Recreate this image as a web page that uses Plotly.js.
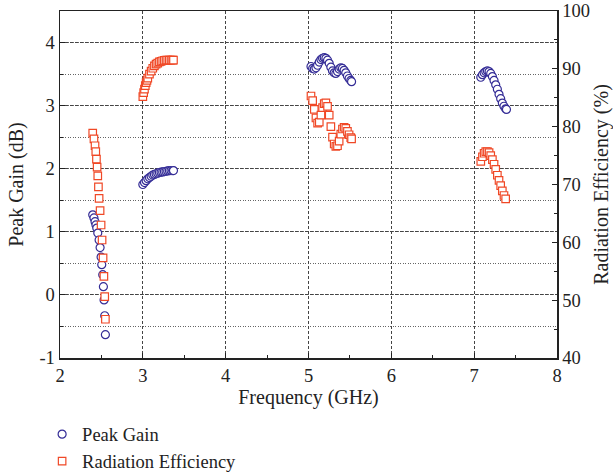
<!DOCTYPE html>
<html>
<head>
<meta charset="utf-8">
<script src="https://cdn.plot.ly/plotly-3.0.1.min.js"></script>
<style>html,body{margin:0;padding:0;background:#fff;}#chart{width:613px;height:475px;}</style>
</head>
<body>
<div id="chart"></div>
<script>
// Peak Gain (dB), left axis
const gainFreq = [2.395, 2.41, 2.423, 2.434, 2.444, 2.456, 2.472, 2.484, 2.496, 2.504, 2.516, 2.524, 2.532, 2.540, 2.548,
  3.00, 3.02, 3.04, 3.06, 3.08, 3.10, 3.12, 3.14, 3.16, 3.18, 3.20, 3.22, 3.24, 3.26, 3.28, 3.30, 3.32, 3.34, 3.36, 3.37,
  5.03, 5.05, 5.07, 5.09, 5.11, 5.13, 5.15, 5.17, 5.19, 5.21, 5.23, 5.25, 5.27, 5.29, 5.31, 5.33, 5.35, 5.37, 5.39, 5.41, 5.43, 5.45, 5.47, 5.49, 5.51, 5.52,
  7.08, 7.10, 7.12, 7.14, 7.16, 7.18, 7.20, 7.22, 7.24, 7.26, 7.28, 7.30, 7.32, 7.34, 7.36, 7.38, 7.39];
const gainValues = [1.27, 1.22, 1.16, 1.11, 1.06, 0.98, 0.87, 0.75, 0.60, 0.48, 0.32, 0.13, -0.08, -0.33, -0.63,
  1.75, 1.78, 1.81, 1.84, 1.86, 1.88, 1.90, 1.91, 1.92, 1.93, 1.94, 1.945, 1.95, 1.955, 1.96, 1.965, 1.97, 1.97, 1.97, 1.97,
  3.62, 3.59, 3.58, 3.60, 3.64, 3.69, 3.73, 3.75, 3.76, 3.75, 3.72, 3.67, 3.61, 3.55, 3.52, 3.51, 3.54, 3.58, 3.60, 3.59, 3.56, 3.52, 3.47, 3.43, 3.40, 3.38,
  3.45, 3.49, 3.52, 3.54, 3.55, 3.54, 3.51, 3.46, 3.40, 3.33, 3.26, 3.18, 3.11, 3.04, 2.99, 2.95, 2.94];

// Radiation Efficiency (%), right axis
const effFreq = [2.395, 2.41, 2.423, 2.432, 2.44, 2.448, 2.456, 2.464, 2.472, 2.484, 2.496, 2.508, 2.520, 2.530, 2.540, 2.548,
  3.00, 3.01, 3.02, 3.03, 3.04, 3.05, 3.06, 3.08, 3.10, 3.12, 3.14, 3.16, 3.18, 3.20, 3.22, 3.24, 3.26, 3.28, 3.30, 3.32, 3.34, 3.36, 3.37,
  5.03, 5.05, 5.07, 5.09, 5.11, 5.13, 5.15, 5.17, 5.19, 5.21, 5.23, 5.25, 5.27, 5.29, 5.31, 5.33, 5.35, 5.37, 5.39, 5.41, 5.43, 5.45, 5.47, 5.49, 5.51, 5.52,
  7.08, 7.10, 7.12, 7.14, 7.16, 7.18, 7.20, 7.22, 7.24, 7.26, 7.28, 7.30, 7.32, 7.34, 7.36, 7.38];
const effValues = [78.9, 77.9, 76.7, 75.7, 74.4, 73.0, 71.5, 69.6, 67.6, 65.5, 63.0, 60.4, 57.3, 54.1, 50.6, 46.7,
  85.2, 85.9, 86.5, 87.1, 87.6, 88.0, 88.4, 89.1, 89.6, 90.1, 90.5, 90.8, 91.0, 91.2, 91.3, 91.4, 91.45, 91.5, 91.5, 91.5, 91.5, 91.5, 91.5,
  85.3, 84.5, 83.0, 81.5, 80.6, 80.8, 82.0, 83.3, 84.0, 84.1, 83.5, 82.0, 80.0, 78.2, 77.0, 76.6, 76.7, 77.5, 78.7, 79.6, 79.9, 79.7, 79.2, 78.6, 78.1, 77.9,
  74.0, 74.8, 75.4, 75.7, 75.7, 75.5, 75.0, 74.3, 73.5, 72.6, 71.6, 70.7, 69.8, 68.9, 68.1, 67.5];

const xTicks = [2, 3, 4, 5, 6, 7, 8];
const gainTicks = [-1, 0, 1, 2, 3, 4];
const effTicks = [40, 50, 60, 70, 80, 90, 100];

const blue = 'rgb(52,44,150)';
const red = 'rgb(240,72,38)';
const font = 'Liberation Serif';

const traces = [
  {x: gainFreq, y: gainValues, name: 'Peak Gain', type: 'scatter', mode: 'markers', yaxis: 'y',
   marker: {symbol: 'circle', size: 8, color: 'white', line: {color: blue, width: 1.2}}},
  {x: effFreq, y: effValues, name: 'Radiation Efficiency', type: 'scatter', mode: 'markers', yaxis: 'y2',
   marker: {symbol: 'square', size: 7.5, color: 'white', line: {color: red, width: 1.2}}}
];

const axisCommon = {
  showline: true, linecolor: '#222', linewidth: 1.5, ticks: 'inside', ticklen: 5, tickcolor: '#222',
  tickfont: {family: font, size: 18.5, color: '#222'}, zeroline: false
};

const layout = {
  width: 613, height: 475,
  margin: {l: 60, r: 56, t: 11, b: 117, autoexpand: false},
  paper_bgcolor: 'white', plot_bgcolor: 'white',
  font: {family: font, size: 18, color: '#222'},
  showlegend: true,
  legend: {x: -0.036, y: -0.166, xanchor: 'left', yanchor: 'top',
           font: {family: font, size: 18.5, color: '#222'},
           tracegroupgap: 0, itemwidth: 30, bgcolor: 'rgba(0,0,0,0)'},
  xaxis: Object.assign({}, axisCommon, {
    range: [2, 8], tickvals: xTicks, ticktext: xTicks.map(String), mirror: true,
    showgrid: true, gridcolor: '#444', gridwidth: 1, griddash: '3px,2px',
    minor: {dtick: 0.5, ticks: 'inside', ticklen: 3, tickcolor: '#222', showgrid: false},
    title: {text: 'Frequency (GHz)', font: {family: font, size: 20, color: '#222'}, standoff: 3}
  }),
  yaxis: Object.assign({}, axisCommon, {
    range: [-1, 4.5], tickvals: gainTicks, ticktext: gainTicks.map(String), mirror: true,
    showgrid: true, gridcolor: '#444', gridwidth: 1, griddash: '3px,2px',
    minor: {dtick: 0.5, ticks: 'inside', ticklen: 3, tickcolor: '#222', showgrid: true, gridcolor: '#666', gridwidth: 1, griddash: '1px,1.5px'},
    title: {text: 'Peak Gain (dB)', font: {family: font, size: 20, color: '#222'}, standoff: 10}
  }),
  yaxis2: Object.assign({}, axisCommon, {
    range: [40, 100], tickvals: effTicks, ticktext: effTicks.map(String), overlaying: 'y', side: 'right',
    showgrid: false,
    minor: {dtick: 5, ticks: 'inside', ticklen: 3, tickcolor: '#222', showgrid: false},
    title: {text: 'Radiation Efficiency (%)', font: {family: font, size: 20, color: '#222'}, standoff: 8}
  })
};

Plotly.newPlot('chart', traces, layout, {displayModeBar: false, staticPlot: true});
</script>
</body>
</html>
